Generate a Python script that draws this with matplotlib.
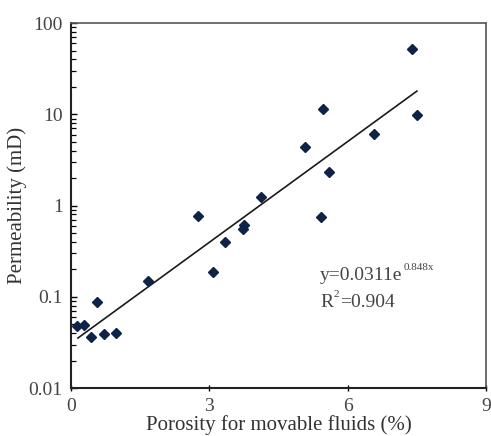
import matplotlib
matplotlib.use("Agg")
import matplotlib.pyplot as plt
import numpy as np
from matplotlib.ticker import LogLocator, NullFormatter
from matplotlib.transforms import offset_copy

porosity = [0.13, 0.28, 0.43, 0.56, 0.71, 0.97, 1.67, 2.75, 3.08, 3.34, 3.74, 3.75, 4.13, 5.08, 5.41, 5.47, 5.60, 6.58, 7.40, 7.51]
permeability = [0.048, 0.049, 0.036, 0.088, 0.039, 0.040, 0.15, 0.76, 0.188, 0.40, 0.56, 0.62, 1.24, 4.36, 0.75, 11.4, 2.32, 6.05, 52.0, 9.8]
fit_a = 0.0311
fit_b = 0.848
fit_range = [0.15, 7.5]
x_ticks = [0, 3, 6, 9]
y_ticks = [0.01, 0.1, 1, 10, 100]
y_ticklabels = ["0.01", "0.1", "1", "10", "100"]

plt.rcParams['font.family'] = ['Liberation Serif', 'DejaVu Serif']

fig = plt.figure(figsize=(4.91, 4.36), dpi=100)
ax = fig.add_axes([0.1446, 0.110, 0.8454, 0.837])

xf = np.linspace(fit_range[0], fit_range[1], 100)
ax.plot(xf, fit_a * np.exp(fit_b * xf), color='#1a1a1a', lw=1.2, zorder=2)
ax.plot(porosity, permeability, linestyle='none', marker='D', ms=5.5, color='#0f2347', zorder=3)

ax.set_yscale('log')
ax.set_xlim(0, 9)
ax.set_ylim(0.01, 100)
ax.set_xticks(x_ticks)
ax.set_xticklabels([str(t) for t in x_ticks])
ax.set_yticks(y_ticks)
ax.set_yticklabels(y_ticklabels)
ax.yaxis.set_minor_locator(LogLocator(base=10, subs=np.arange(2, 10)))
ax.yaxis.set_minor_formatter(NullFormatter())

ax.tick_params(axis='y', which='major', direction='in', length=4, width=1, labelsize=14, labelcolor='#444444', pad=6)
ax.tick_params(axis='y', which='minor', direction='in', length=3.5, width=0.9)
ax.tick_params(axis='x', which='major', direction='inout', length=4, width=1, labelsize=14, labelcolor='#444444', pad=5)

for s in ['left', 'bottom']:
    ax.spines[s].set_color('#222222')
    ax.spines[s].set_linewidth(1.5)
for s in ['top', 'right']:
    ax.spines[s].set_color('#555555')
    ax.spines[s].set_linewidth(1.2)

ax.set_xlabel('Porosity for movable fluids (%)', fontsize=15, color='#333333', labelpad=0)
ax.set_ylabel('Permeability (mD)', fontsize=15, color='#333333', labelpad=1)

txt_color = '#444444'
fig.canvas.draw()
renderer = fig.canvas.get_renderer()

def put_with_sup(x, y, base, sup, rest=''):
    t1 = ax.text(x, y, base, transform=ax.transAxes, fontsize=14, color=txt_color, va='baseline')
    bb = t1.get_window_extent(renderer)
    tr = offset_copy(ax.transAxes, fig=fig, x=0, y=0, units='dots')
    x1, y1 = ax.transAxes.inverted().transform((bb.x1 + 1, 0))[0], y
    t2 = ax.annotate(sup, xy=(x1, y), xycoords='axes fraction', xytext=(0, 7), textcoords='offset points',
                     fontsize=8, color=txt_color, va='baseline', ha='left')
    if rest:
        bb2 = t2.get_window_extent(renderer)
        x2 = ax.transAxes.inverted().transform((bb2.x1 + 0.5, 0))[0]
        ax.text(x2, y, rest, transform=ax.transAxes, fontsize=14, color=txt_color, va='baseline')

put_with_sup(0.60, 0.297, 'y=0.0311e', '0.848x')
put_with_sup(0.60, 0.223, 'R', '2', '=0.904')

fig.savefig('out.png', dpi=100)
